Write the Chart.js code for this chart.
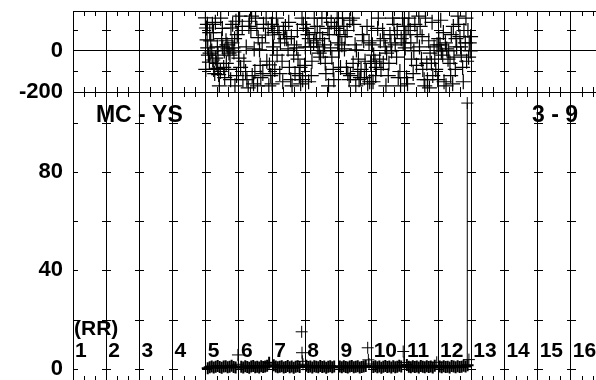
<!DOCTYPE html>
<html>
<head>
<meta charset="utf-8">
<script src="https://cdn.jsdelivr.net/npm/chart.js@4/dist/chart.umd.min.js"></script>
<style>
html, body { margin: 0; padding: 0; background: #fff; overflow: hidden; width: 596px; height: 380px; }
canvas { position: absolute; left: 0; top: 0; }
</style>
</head>
<body>
<canvas id="bottom_chart" width="610" height="390"></canvas>
<canvas id="top_chart" width="610" height="390"></canvas>
<script>
// upper panel: scattered beats
var topX = [
  3.99, 4.02, 4.04, 4.06, 4.08, 4.11, 4.12, 4.15, 4.18, 4.20, 4.21, 4.24, 4.27,
  4.30, 4.33, 4.35, 4.36, 4.39, 4.41, 4.45, 4.48, 4.51, 4.54, 4.57,
  4.61, 4.64, 4.67, 4.70, 4.73, 4.76, 4.79, 4.82, 4.85, 4.87,
  4.91, 4.95, 5.00, 5.05, 5.10, 5.15,
  5.20, 5.24, 5.28, 5.32, 5.36, 5.40, 5.44, 5.46,
  5.50, 5.54, 5.58, 5.62, 5.66, 5.70, 5.74,
  5.80, 5.84, 5.88, 5.92, 5.96, 6.00, 6.04, 6.08,
  6.13, 6.17, 6.21, 6.25, 6.30, 6.34, 6.38,
  6.44, 6.48, 6.52, 6.56, 6.60, 6.65, 6.69,
  6.74, 6.78, 6.82, 6.86, 6.90, 6.94, 6.98,
  7.04, 7.08, 7.12, 7.16, 7.20, 7.25, 7.29,
  7.34, 7.38, 7.42, 7.46, 7.50, 7.54, 7.58, 7.60,
  7.64, 7.68, 7.72, 7.76, 7.80, 7.84, 7.88,
  7.94, 7.98, 8.02, 8.06,
  8.12, 8.16, 8.20, 8.24, 8.28, 8.32, 8.36,
  8.42, 8.46, 8.50, 8.54, 8.58, 8.62, 8.66,
  8.72, 8.76, 8.80, 8.84, 8.88, 8.94, 8.97,
  9.02, 9.06, 9.10, 9.14, 9.18, 9.24, 9.28,
  9.33, 9.37, 9.41, 9.45, 9.50, 9.55, 9.58,
  9.63, 9.67, 9.71, 9.75, 9.80, 9.85, 9.89,
  9.93, 9.97, 10.01, 10.05, 10.08,
  10.12, 10.16, 10.20, 10.25, 10.30, 10.35,
  10.42, 10.46, 10.50, 10.54, 10.58, 10.62, 10.66,
  10.72, 10.76, 10.80, 10.84, 10.88, 10.93, 10.97,
  11.02, 11.06, 11.10, 11.14, 11.18, 11.22, 11.26,
  11.32, 11.36, 11.40, 11.44, 11.48, 11.52, 11.56,
  11.62, 11.66, 11.70, 11.74, 11.78, 11.82, 11.86,
  11.90, 11.94, 11.97, 11.98,
  4.00, 4.05, 4.13, 4.23, 4.29, 4.37, 4.44,
  4.50, 4.56, 4.62, 4.69, 4.75, 4.81, 4.88,
  4.93, 5.02, 5.12, 5.22, 5.30, 5.38, 5.48,
  5.56, 5.64, 5.72, 5.82, 5.90, 5.98, 6.06,
  6.15, 6.23, 6.32, 6.40, 6.50, 6.58, 6.67,
  6.76, 6.84, 6.92, 7.00, 7.10, 7.18, 7.27,
  7.36, 7.44, 7.52, 7.62, 7.70, 7.78, 7.86,
  7.96, 8.04, 8.10, 8.18, 8.26, 8.34, 8.44,
  8.52, 8.60, 8.68, 8.78, 8.86, 8.92, 9.04,
  9.12, 9.20, 9.26, 9.35, 9.43, 9.52, 9.60,
  9.69, 9.77, 9.87, 9.95, 10.03, 10.10, 10.18,
  10.27, 10.37, 10.44, 10.52, 10.60, 10.68, 10.74,
  10.82, 10.90, 10.99, 11.08, 11.16, 11.24, 11.30,
  11.38, 11.46, 11.54, 11.60, 11.68, 11.76, 11.84,
  11.92
];
var topY = [
  161, 112, 54, 15, -20, -54, 90, 49, 0, 130, -44, -90, -110,
  -35, -60, 20, -85, -115, -170, 160, 60, 20, -80, -130,
  50, 30, 10, -10, -20, 112, 40, 15, -5, 60,
  145, 80, -35, -80, 120, -50,
  -100, -140, -180, 145, 100, -120, -160, 10,
  160, 110, 65, 5, -130, 40, 130,
  78, -50, 110, -68, -120, -160, 20, -90,
  160, 120, 80, 40, -50, 100, 60,
  60, 10, -80, -140, -170, -20, -110,
  15, -40, -120, -160, 160, 130, -70,
  110, 80, 60, 20, -50, 40, 90,
  50, 20, -10, -30, 160, 0, 30, -60,
  160, 110, 80, 15, -30, -90, 120,
  110, 40, 0, -80,
  160, 120, 70, -80, -110, -140, -120,
  160, 130, 30, 5, -100, -140, -130,
  80, 50, -50, -100, -160, -150, -60,
  30, -20, -50, -80, 110, -40, -90,
  100, 60, 20, -10, -120, 80, 40,
  160, 130, 30, -30, -130, -100, 60,
  160, 120, 15, -130, -160,
  160, 100, -40, -110, 130, -70,
  170, 120, -40, -90, -140, 160, -60,
  50, -10, -60, -120, 20, -90, 30,
  60, 30, 0, -20, -150, 40, 10,
  0, -60, 80, -160, -30, -90, 20,
  130, 70, -20, -80, 100, 40, -50,
  100, 40, 0, 70,
  -90, 130, -10, 90, 140, -20, -100,
  110, 0, -60, -90, -140, 130, -170,
  -120, 170, -140, 20, 120, 170, -100,
  -170, -70, -110, 160, -170, 130, 90,
  -20, -110, -150, 120, 140, 70, 30,
  100, -80, -140, 20, -150, -120, 160,
  120, 90, 60, -110, -170, 140, -140,
  160, 80, 30, 10, 100, 150, -60,
  -170, -40, -90, -130, 120, 40, -150,
  -120, 160, 50, -60, -170, -60, 0,
  80, 100, -170, 40, 80, 120, 40,
  0, 80, 20, 70, -170, -140, -180,
  140, -40, -140, 150, 90, -170, -40,
  -120, 120, 60, 170, 20, -150, 160,
  -30
];

// lower panel: RR values, the dense run of beats near zero
var botX = [
  4.06, 4.12, 4.18, 4.24, 4.30, 4.36, 4.42, 4.48, 4.54, 4.60, 4.66, 4.72, 4.78, 4.84, 4.90,
  5.07, 5.13, 5.19, 5.25, 5.31, 5.37, 5.43, 5.49, 5.55, 5.61, 5.67, 5.73, 5.79, 5.85, 5.91,
  6.05, 6.11, 6.17, 6.23, 6.29, 6.35, 6.41, 6.47, 6.53, 6.59, 6.65, 6.71, 6.77, 6.83,
  7.03, 7.09, 7.15, 7.21, 7.27, 7.33, 7.39, 7.45, 7.51, 7.57, 7.63, 7.69, 7.75, 7.81, 7.87,
  8.04, 8.10, 8.16, 8.22, 8.28, 8.34, 8.40, 8.46, 8.52, 8.58, 8.64, 8.70, 8.76, 8.82,
  9.05, 9.11, 9.17, 9.23, 9.29, 9.35, 9.41, 9.47, 9.53, 9.59, 9.65, 9.71, 9.77, 9.83, 9.89,
  10.06, 10.12, 10.18, 10.24, 10.30, 10.36, 10.42, 10.48, 10.54, 10.60, 10.66, 10.72, 10.78, 10.84, 10.90,
  11.05, 11.11, 11.17, 11.23, 11.29, 11.35, 11.41, 11.47, 11.53, 11.59, 11.65, 11.71, 11.77, 11.83, 11.89
];
var botY = [
  0.2, 0.6, 0.9, 0.5, 0.8, 1.1, 0.7, 0.4, 0.9, 1.0, 0.6, 0.8, 1.2, 0.7, 0.5,
  0.8, 0.5, 1.0, 0.7, 0.4, 0.9, 1.1, 0.6, 0.8, 0.5, 1.0, 0.7, 0.9, 1.2, 2.4,
  1.4, 0.9, 0.6, 0.8, 1.0, 0.5, 0.7, 1.1, 0.6, 0.9, 0.4, 0.8, 1.0, 0.7,
  1.2, 0.7, 0.9, 0.5, 1.0, 0.8, 0.6, 1.1, 0.7, 0.9, 0.4, 0.8, 1.0, 0.6, 0.9,
  0.9, 0.6, 1.0, 0.7, 0.5, 0.9, 1.1, 0.6, 0.8, 1.0, 0.5, 0.7, 0.9, 1.1,
  0.7, 1.0, 0.6, 0.9, 0.4, 0.8, 1.1, 0.7, 0.9, 0.5, 1.0, 0.6, 0.8, 1.2, 0.9,
  1.5, 0.8, 0.6, 1.0, 0.7, 0.9, 0.5, 1.1, 0.8, 0.6, 1.0, 0.7, 0.9, 0.5, 1.2,
  0.9, 0.6, 1.0, 0.7, 0.8, 0.5, 1.1, 0.9, 0.6, 1.0, 0.7, 0.8, 1.2, 0.9, 1.4
];
// the few longer intervals at the ends of the runs
var outX = [4.97, 4.98, 6.89, 6.90, 6.91, 6.93, 8.88, 8.90, 8.92, 9.95, 9.97, 10.96, 11.93];
var outY = [5.6, 1.8, 15.0, 6.5, 3.0, 1.8, 8.5, 3.6, 1.9, 7.0, 2.5, 2.6, 3.7];

// the single long interval near the end, joined to the one before it
var spikeX = [11.88, 11.88];
var spikeY = [0.8, 108];

var segmentLabels = ['1', '2', '3', '4', '5', '6', '7', '8', '9', '10', '11', '12', '13', '14', '15', '16'];
var topTicks = [-200, -100, 0, 100];
var topTickLabels = [-200, 0];
var bottomTicks = [0, 20, 40, 60, 80, 100];
var bottomTickLabels = [0, 40, 80];

var FONT = '"Liberation Sans", Arial, sans-serif';

function pairs(xs, ys) {
  return xs.map(function (x, i) { return { x: x, y: ys[i] }; });
}

// minor ticks on the frame, small dashes where y ticks cross the vertical grid
var tickMarks = {
  id: 'tickMarks',
  afterDraw: function (chart, args, opts) {
    var ctx = chart.ctx, a = chart.chartArea;
    var xs = chart.scales.x, ys = chart.scales.y;
    ctx.save();
    ctx.strokeStyle = '#000';
    ctx.lineWidth = 1;
    ctx.beginPath();
    if (opts.topBorder) {
      ctx.moveTo(a.left, Math.round(a.top) + 0.5);
      ctx.lineTo(a.right, Math.round(a.top) + 0.5);
    }
    for (var k = 1; k < xs.max * 3; k++) {
      if (k % 3 === 0) continue;
      var px = Math.round(xs.getPixelForValue(k / 3)) + 0.5;
      ctx.moveTo(px, a.top);
      ctx.lineTo(px, a.top + 5);
      ctx.moveTo(px, a.bottom);
      ctx.lineTo(px, a.bottom - 5);
    }
    ys.ticks.forEach(function (t) {
      if (t.value <= ys.min || t.value >= ys.max) return;
      if (opts.skipZero && t.value === 0) return;
      var py = Math.round(ys.getPixelForValue(t.value)) + 0.5;
      xs.ticks.forEach(function (xt) {
        var gx = Math.round(xs.getPixelForValue(xt.value));
        ctx.moveTo(Math.max(a.left, gx - 4), py);
        ctx.lineTo(gx + 5, py);
      });
    });
    ctx.stroke();
    ctx.restore();
  }
};

// texts written inside the lower panel
var panelText = {
  id: 'panelText',
  afterDatasetsDraw: function (chart) {
    var ctx = chart.ctx, xs = chart.scales.x, ys = chart.scales.y;
    ctx.save();
    ctx.fillStyle = '#000';
    ctx.textBaseline = 'middle';
    ctx.textAlign = 'left';
    ctx.font = 'bold 21px ' + FONT;
    segmentLabels.forEach(function (s, i) {
      ctx.fillText(s, xs.getPixelForValue(i) + 2, ys.getPixelForValue(7.3));
    });
    ctx.fillText('(RR)', xs.getPixelForValue(0) + 1, ys.getPixelForValue(16.2));
    ctx.font = 'bold 23px ' + FONT;
    ctx.fillText('MC - YS', xs.getPixelForValue(0.69), ys.getPixelForValue(102.7));
    ctx.fillText('3 - 9', xs.getPixelForValue(13.83), ys.getPixelForValue(102.7));
    ctx.restore();
  }
};

function makeOptions(yMin, yMax, tickList, shown, zeroLine, padTop, padBottom, marks) {
  return {
    responsive: false,
    animation: false,
    devicePixelRatio: 1,
    layout: { autoPadding: false, padding: { top: padTop, bottom: padBottom, left: 0, right: 6 } },
    plugins: { legend: { display: false }, tooltip: { enabled: false }, tickMarks: marks },
    scales: {
      x: {
        type: 'linear', min: 0, max: 16,
        ticks: { display: false, stepSize: 1 },
        grid: { color: '#000', lineWidth: 1, drawTicks: false },
        border: { display: true, color: '#000' },
        afterFit: function (s) { s.height = 0; s.paddingLeft = 0; s.paddingRight = 0; }
      },
      y: {
        type: 'linear', min: yMin, max: yMax,
        afterBuildTicks: function (s) {
          s.ticks = tickList.map(function (v) { return { value: v }; });
        },
        ticks: {
          padding: 10, color: '#000', autoSkip: false,
          font: { family: FONT, size: 22, weight: 'bold' },
          callback: function (v) { return shown.indexOf(v) >= 0 ? String(v) : ''; }
        },
        grid: {
          drawTicks: false,
          color: function (c) { return (zeroLine && c.tick && c.tick.value === 0) ? '#000' : 'rgba(0,0,0,0)'; }
        },
        border: { display: true, color: '#000' },
        afterFit: function (s) { s.width = 73; s.paddingTop = 0; s.paddingBottom = 0; }
      }
    }
  };
}

new Chart(document.getElementById('top_chart'), {
  type: 'scatter',
  data: {
    datasets: [{
      data: pairs(topX, topY),
      pointStyle: 'cross', pointRadius: 7.5, borderColor: '#000', borderWidth: 1.2,
      backgroundColor: 'rgba(0,0,0,0)'
    }]
  },
  options: makeOptions(-200, 195, topTicks, topTickLabels, true, 11, 298,
    { topBorder: true, skipZero: true }),
  plugins: [tickMarks]
});

new Chart(document.getElementById('bottom_chart'), {
  type: 'scatter',
  data: {
    datasets: [{
      data: pairs(botX, botY),
      pointStyle: 'cross', pointRadius: 6, borderColor: '#000', borderWidth: 2,
      backgroundColor: 'rgba(0,0,0,0)'
    }, {
      data: pairs(outX, outY),
      pointStyle: 'cross', pointRadius: 6, borderColor: '#000', borderWidth: 1,
      backgroundColor: 'rgba(0,0,0,0)'
    }, {
      data: pairs(spikeX, spikeY),
      showLine: true, borderColor: '#000', borderWidth: 1,
      pointStyle: 'cross', pointRadius: [0, 6], backgroundColor: 'rgba(0,0,0,0)'
    }]
  },
  options: makeOptions(-5, 112.5, bottomTicks, bottomTickLabels, false, 92, 9,
    { topBorder: false, skipZero: false }),
  plugins: [tickMarks, panelText]
});
</script>
</body>
</html>
